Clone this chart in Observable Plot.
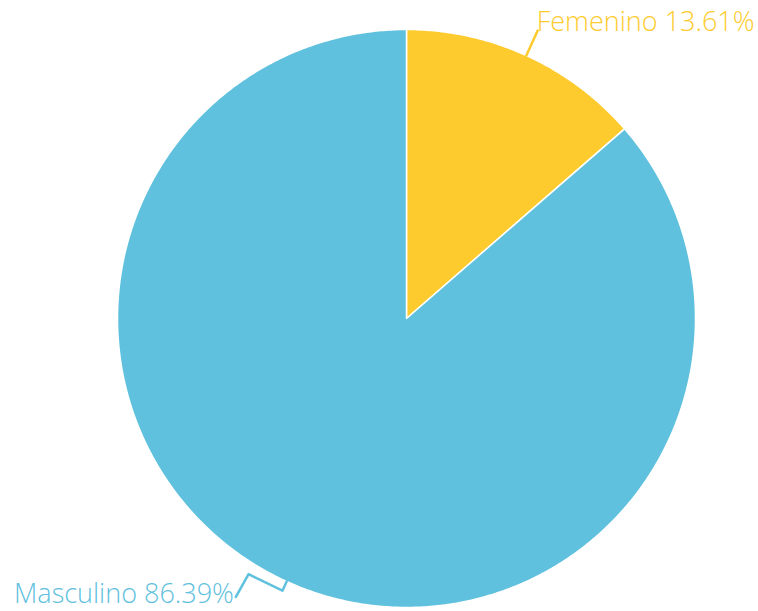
<!DOCTYPE html>
<html><head><meta charset="utf-8">
<script src="https://cdn.jsdelivr.net/npm/d3@7"></script>
<script src="https://cdn.jsdelivr.net/npm/@observablehq/plot@0.6"></script>
<style>body{margin:0;background:#fff}</style>
</head><body><div id="chart"></div>
<script>
const categories = ["Femenino", "Masculino"];
const percentages = [13.61, 86.39];
const colors = ["#FDCB2E", "#5FC1DD"];

const W = 758, H = 611, cx = 406, cy = 318, R = 289;
const rad = d => d * Math.PI / 180;
const polar = (deg, r) => ({x: r * Math.sin(rad(deg)), y: r * Math.cos(rad(deg))});

const total = d3.sum(percentages);
let acc = 0;
const slices = categories.map((name, i) => {
  const a0 = acc / total * 360;
  acc += percentages[i];
  const a1 = acc / total * 360;
  return {name, value: percentages[i], a0, a1, mid: (a0 + a1) / 2, color: colors[i]};
});

const polys = [];
for (const s of slices) {
  polys.push({name: s.name, x: 0, y: 0});
  const n = Math.max(2, Math.ceil((s.a1 - s.a0) / 0.5));
  for (let k = 0; k <= n; k++) {
    const p = polar(s.a0 + (s.a1 - s.a0) * k / n, 1);
    polys.push({name: s.name, ...p});
  }
}

const fem = slices[0], mas = slices[1];
const leaders = [
  {name: fem.name, ...polar(fem.mid, 1)},
  {name: fem.name, ...polar(fem.mid, 1.095)},
  {name: mas.name, ...polar(mas.mid, 1)},
  {name: mas.name, ...polar(mas.mid, 1.035)},
  {name: mas.name, ...polar(mas.mid + 7.2, 1.04)},
  {name: mas.name, ...polar(mas.mid + 7, 1.13)}
];
const labels = [
  {name: fem.name, text: `${fem.name} ${fem.value.toFixed(2)}%`, ...polar(fem.mid, 1.095), anchor: "start"},
  {name: mas.name, text: `${mas.name} ${mas.value.toFixed(2)}%`, ...polar(mas.mid + 7, 1.13), anchor: "end"}
];

const chart = Plot.plot({
  width: W, height: H,
  margin: 0,
  style: {fontFamily: "'Open Sans', sans-serif", background: "#fff"},
  x: {domain: [-1, 1], range: [cx - R, cx + R], axis: null},
  y: {domain: [-1, 1], range: [cy + R, cy - R], axis: null},
  color: {domain: categories, range: colors},
  marks: [
    Plot.line(polys, {x: "x", y: "y", z: "name", fill: "name", stroke: "#ffffff", strokeWidth: 1.5, curve: "linear-closed", strokeLinejoin: "round"}),
    Plot.line(leaders, {x: "x", y: "y", z: "name", stroke: "name", strokeWidth: 2.5, curve: "linear"}),
    Plot.text(labels.filter(d => d.anchor === "start"), {x: "x", y: "y", text: "text", fill: "name", textAnchor: "start", dx: -1, dy: 0, lineAnchor: "bottom", fontSize: 27, fontWeight: 300}),
    Plot.text(labels.filter(d => d.anchor === "end"), {x: "x", y: "y", text: "text", fill: "name", textAnchor: "end", dx: -2, dy: 6, lineAnchor: "bottom", fontSize: 27, fontWeight: 300})
  ]
});
document.getElementById("chart").append(chart);
</script>
</body></html>
